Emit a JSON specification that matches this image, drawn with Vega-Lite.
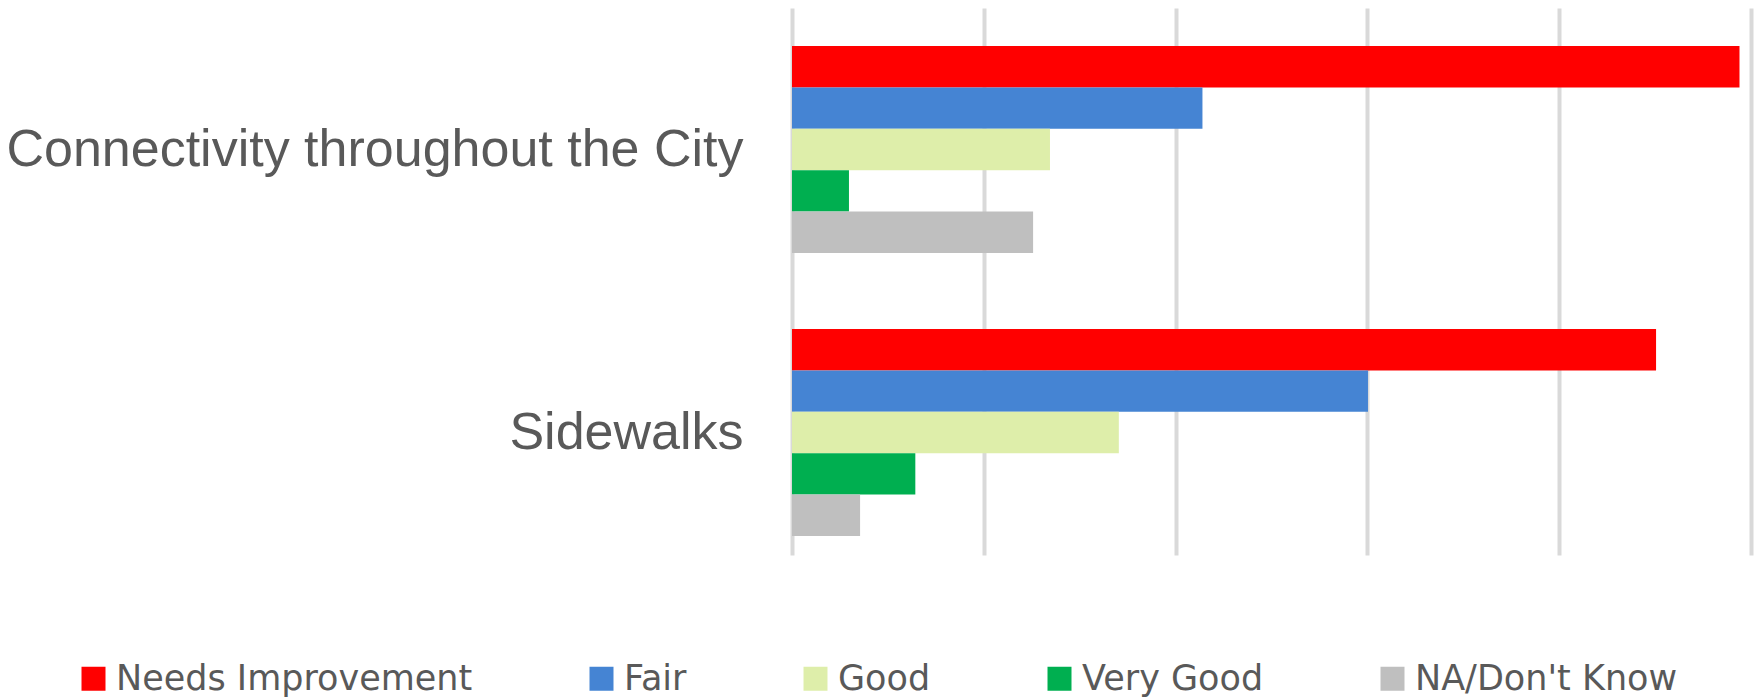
{
  "$schema": "https://vega.github.io/schema/vega-lite/v6.json",
  "width": 959,
  "height": 547,
  "autosize": {"type": "none"},
  "padding": {"left": 792, "top": 8, "right": 11, "bottom": 142},
  "background": "white",
  "data": {
    "values": [
      {"item": "Connectivity throughout the City", "rating": "Needs Improvement", "pct": 49.4},
      {"item": "Connectivity throughout the City", "rating": "Fair", "pct": 21.4},
      {"item": "Connectivity throughout the City", "rating": "Good", "pct": 13.45},
      {"item": "Connectivity throughout the City", "rating": "Very Good", "pct": 2.97},
      {"item": "Connectivity throughout the City", "rating": "NA/Don't Know", "pct": 12.57},
      {"item": "Sidewalks", "rating": "Needs Improvement", "pct": 45.05},
      {"item": "Sidewalks", "rating": "Fair", "pct": 30.03},
      {"item": "Sidewalks", "rating": "Good", "pct": 17.04},
      {"item": "Sidewalks", "rating": "Very Good", "pct": 6.43},
      {"item": "Sidewalks", "rating": "NA/Don't Know", "pct": 3.55}
    ]
  },
  "mark": {"type": "bar"},
  "encoding": {
    "y": {
      "field": "item",
      "type": "nominal",
      "sort": ["Connectivity throughout the City", "Sidewalks"],
      "scale": {"paddingInner": 0.2686, "paddingOuter": 0.1007, "align": 0.667},
      "axis": {
        "title": null,
        "ticks": false,
        "domain": false,
        "grid": false,
        "labelPadding": 49,
        "labelFont": "Liberation Sans",
        "labelFontSize": 52,
        "labelColor": "#595959",
        "labelLimit": 1000
      }
    },
    "yOffset": {
      "field": "rating",
      "type": "nominal",
      "sort": ["Needs Improvement", "Fair", "Good", "Very Good", "NA/Don't Know"],
      "scale": {"paddingInner": 0, "paddingOuter": 0}
    },
    "x": {
      "field": "pct",
      "type": "quantitative",
      "scale": {"domain": [0, 50], "nice": false},
      "axis": {
        "title": null,
        "labels": false,
        "ticks": false,
        "domain": false,
        "values": [0, 10, 20, 30, 40, 50],
        "grid": true,
        "gridColor": "#d9d9d9",
        "gridWidth": 4
      }
    },
    "color": {
      "field": "rating",
      "type": "nominal",
      "sort": ["Needs Improvement", "Fair", "Good", "Very Good", "NA/Don't Know"],
      "scale": {
        "domain": ["Needs Improvement", "Fair", "Good", "Very Good", "NA/Don't Know"],
        "range": ["#ff0000", "#4584d3", "#deeeaa", "#00af50", "#bfbfbf"]
      },
      "legend": {
        "title": null,
        "orient": "none",
        "legendX": -716,
        "legendY": 653,
        "direction": "horizontal",
        "symbolType": "square",
        "symbolSize": 576,
        "symbolStrokeWidth": 0,
        "symbolOpacity": 1,
        "labelFont": "DejaVu Sans",
        "labelFontSize": 35,
        "labelColor": "#595959",
        "labelOffset": 5,
        "columnPadding": 111,
        "labelLimit": 1000,
        "padding": 0
      }
    }
  },
  "config": {"view": {"stroke": null}}
}
